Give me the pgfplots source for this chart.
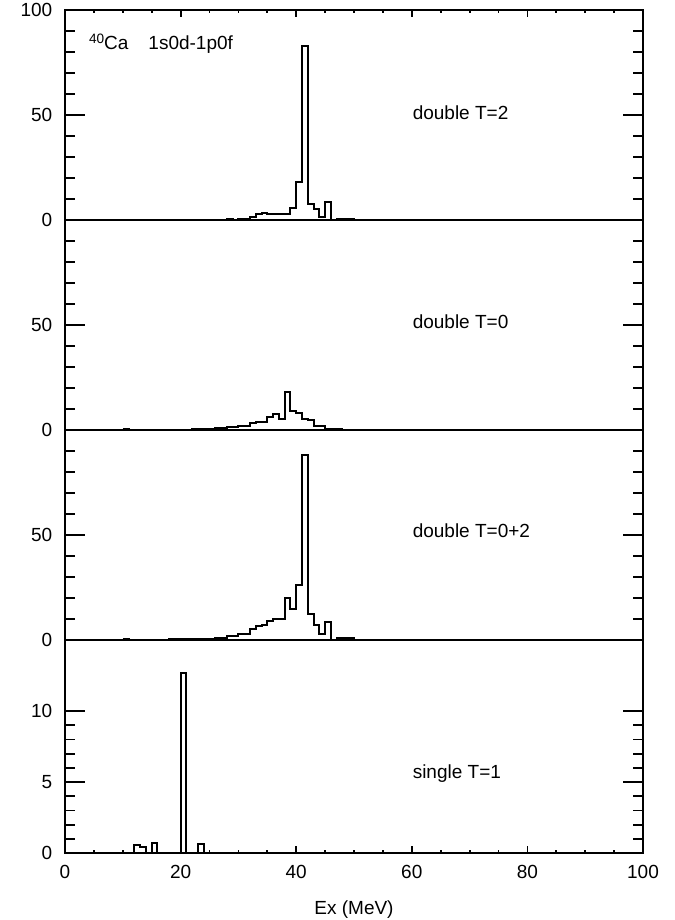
\documentclass[border=0pt]{standalone}
\usepackage{fontspec}
\setmainfont{Liberation Sans}
\usepackage{pgfplots}
\pgfplotsset{compat=1.18}
\begin{document}
\fontsize{9.5}{11}\selectfont
\begin{tikzpicture}
\path[use as bounding box] (-32.5pt,-33.5pt) rectangle (304.5pt,426.5pt);
\pgfplotsset{
  panel/.style={
    width=289pt, scale only axis,
    xmin=0, xmax=100,
    axis line style={line width=1pt},
    tick style={line width=0.9pt, black},
    /pgf/number format/assume math mode=true,
    tick label style={font=\fontsize{9.5}{11}\selectfont},
    yticklabel style={xshift=-3pt},
    xticklabel style={yshift=-2.5pt},
    ytick pos=both, tick align=inside,
    major tick length=10pt, minor tick length=5pt,
    xtick={0,20,...,100}, minor x tick num=3,
    xtick style={/pgfplots/major tick length=3.5pt,/pgfplots/minor tick length=1.5pt},
    clip=false,
  },
  hist/.style={const plot mark left, black, line width=1pt, mark=none},
}
% bottom panel: single T=1
\begin{axis}[panel, at={(0,0)}, height=106.5pt, ymin=0, ymax=15,
  ytick={0,5,10}, minor y tick num=4, xtick pos=left,
  xlabel={Ex (MeV)}, xlabel style={yshift=-4.5pt}]
\addplot[hist] coordinates {(0,0) (12,0.55) (13,0.45) (14,0) (15,0.7) (16,0) (20,12.7) (21,0) (23,0.6) (24,0) (100,0)};
\node[anchor=west] at (axis cs:59,5.6) {single T=1};
\end{axis}
% third panel: double T=0+2
\begin{axis}[panel, at={(0,106.5pt)}, height=105pt, ymin=0, ymax=100,
  ytick={0,50}, minor ytick={10,20,30,40,60,70,80,90}, xtick=\empty, xticklabels={}]
\addplot[hist] coordinates {(10,0.3) (11,0.15) (18,0.3) (24,0.6) (26,1.1) (28,2.1) (30,2.9) (32,5.2) (33,6.7) (34,7.1) (35,9.0) (36,10.1) (37,9.8) (38,20.2) (39,14.6) (40,26.2) (41,88) (42,12.4) (43,7.1) (44,2.9) (45,8.7) (46,0) (47,1.0) (50,0)};
\node[anchor=west] at (axis cs:59,51.9) {double T=0+2};
\end{axis}
% second panel: double T=0
\begin{axis}[panel, at={(0,211.5pt)}, height=105pt, ymin=0, ymax=100,
  ytick={0,50}, minor ytick={10,20,30,40,60,70,80,90}, xtick=\empty, xticklabels={}]
\addplot[hist] coordinates {(10,0.3) (11,0) (15,0.2) (22,0.5) (26,0.9) (28,1.4) (29,1.5) (30,1.7) (31,1.9) (32,3.2) (33,3.8) (34,4.0) (35,6.4) (36,7.5) (37,5.1) (38,18) (39,9.2) (40,8.3) (41,5.0) (42,4.8) (43,1.9) (44,1.7) (45,0.5) (48,0)};
\node[anchor=west] at (axis cs:59,51.4) {double T=0};
\end{axis}
% top panel: double T=2
\begin{axis}[panel, at={(0,316.5pt)}, height=105pt, ymin=0, ymax=100,
  ytick={0,50,100}, minor ytick={10,20,30,40,60,70,80,90}, xtick pos=right, xticklabels={}]
\addplot[hist] coordinates {(20,0) (28,0.3) (29,0.1) (30,0.5) (31,0.7) (32,1.6) (33,2.8) (34,3.2) (35,3.0) (36,2.7) (37,2.8) (38,2.9) (39,5.8) (40,18) (41,83) (42,7.5) (43,5) (44,1.3) (45,8.5) (46,0) (47,0.4) (48,0.4) (49,0.3) (50,0)};
\node[anchor=west] at (axis cs:59,51) {double T=2};
\node[anchor=west] at (axis cs:3,84) {\raisebox{0.55ex}{\fontsize{6.8}{7}\selectfont 40}Ca\hspace{10pt}1s0d-1p0f};
\end{axis}
\end{tikzpicture}
\end{document}
